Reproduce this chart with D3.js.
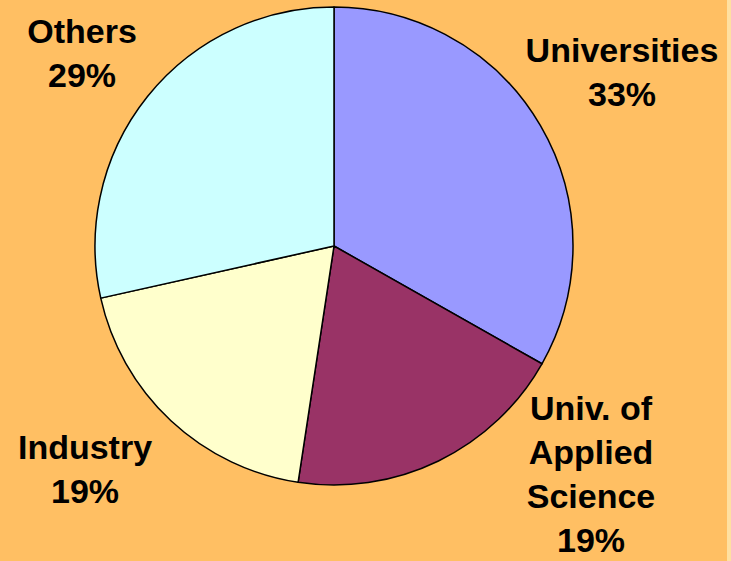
<!DOCTYPE html>
<html>
<head>
<meta charset="utf-8">
<script src="https://cdn.jsdelivr.net/npm/d3@7"></script>
<style>
  html, body { margin: 0; padding: 0; background: #FFBF63; }
  svg { display: block; }
</style>
</head>
<body>
<div id="chart"></div>
<script>
var categories = ['Universities', 'Univ. of Applied Science', 'Industry', 'Others'];
// slice sizes (labels show rounded values)
var shares = [33.2, 19.2, 19.1, 28.5];
var labelLines = [
  ['Universities', '33%'],
  ['Univ. of', 'Applied', 'Science', '19%'],
  ['Industry', '19%'],
  ['Others', '29%']
];

var width = 731, height = 561;
var cx = 334, cy = 246, radius = 239;

var colours = ['#9999FF', '#993366', '#FFFFCC', '#CCFFFF'];
// x centre and first baseline of each label block
var labelPos = [[622, 62], [591, 420], [85, 459], [82, 43]];
var lineGap = 44;

var svg = d3.select('#chart').append('svg')
    .attr('width', width)
    .attr('height', height);

svg.append('rect')
    .attr('width', width)
    .attr('height', height)
    .style('fill', '#FFBF63');

// pale strip on the right edge
svg.append('rect')
    .attr('x', 727)
    .attr('width', width - 727)
    .attr('height', height)
    .style('fill', '#FFE0A0');

var pie = d3.pie().sort(null).value(function(d) { return d; });
var arc = d3.arc().innerRadius(0).outerRadius(radius);

var wrapper = svg.append('g')
    .attr('transform', 'translate(' + cx + ',' + cy + ')');

wrapper.selectAll('path')
    .data(pie(shares))
  .enter().append('path')
    .attr('d', arc)
    .style('fill', function(d, i) { return colours[i]; })
    .style('stroke', '#000')
    .style('stroke-width', 1.5)
    .style('stroke-linejoin', 'round');

var labels = svg.selectAll('.label')
    .data(labelLines)
  .enter().append('text')
    .attr('class', 'label')
    .attr('text-anchor', 'middle')
    .style('font-family', 'Liberation Sans, Arial, sans-serif')
    .style('font-weight', 'bold')
    .style('font-size', '34px')
    .style('fill', '#000');

labels.selectAll('tspan')
    .data(function(d, i) { return d.map(function(t) { return {t: t, i: i}; }); })
  .enter().append('tspan')
    .attr('x', function(d) { return labelPos[d.i][0]; })
    .attr('y', function(d, j) { return labelPos[d.i][1] + j * lineGap; })
    .text(function(d) { return d.t; });
</script>
</body>
</html>
